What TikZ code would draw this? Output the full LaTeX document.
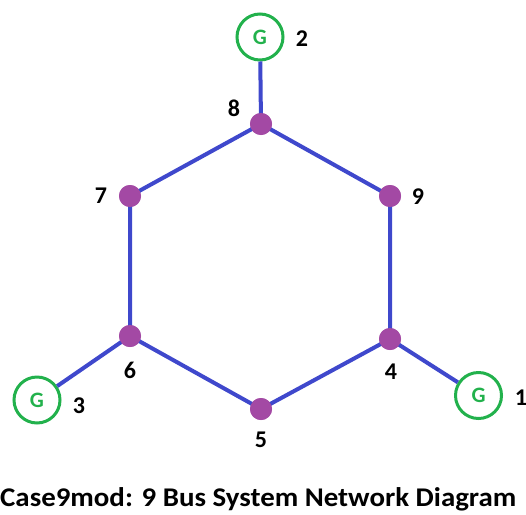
\documentclass[tikz,border=0pt]{standalone}
\usepackage{fontspec}
\setmainfont{Carlito}
\begin{document}
\begin{tikzpicture}[x=1pt,y=-1pt,
  line/.style={draw=lineblue,line width=4pt},
  bus/.style={circle,fill=buspurple,minimum size=22pt,inner sep=0pt},
  gen/.style={circle,draw=gengreen,line width=3pt,minimum size=46pt,inner sep=0pt,
    text=gengreen,font=\fontsize{22}{22}\selectfont\bfseries},
  lbl/.style={font=\fontsize{24}{24}\selectfont\bfseries,text=black}]
\definecolor{lineblue}{HTML}{3F48CC}
\definecolor{buspurple}{HTML}{A349A4}
\definecolor{gengreen}{HTML}{22B14C}
\useasboundingbox (0,0) rectangle (526,514);
\clip (0,0) rectangle (526,514);
% buses
\node[bus] (b8) at (261,124) {};
\node[bus] (b7) at (130,196) {};
\node[bus] (b9) at (390,196) {};
\node[bus] (b6) at (130,336) {};
\node[bus] (b4) at (390,339) {};
\node[bus] (b5) at (261,409) {};
% generators
\node[gen] (g2) at (260,37) {G};
\node[gen] (g3) at (37,400) {G};
\node[gen] (g1) at (478.5,395.5) {G};
% lines
\draw[line] (g2) -- (b8.center);
\draw[line] (b8.center) -- (b9.center) -- (b4.center) -- (b5.center) -- (b6.center) -- (b7.center) -- cycle;
\draw[line] (g3) -- (b6.center);
\draw[line] (g1) -- (b4.center);
% redraw buses on top
\foreach \b in {b8,b7,b9,b6,b4,b5} \fill[buspurple] (\b) circle (11pt);
% labels
\node[lbl] (l2) at (302,39) {2};
\node[lbl] (l8) at (234,108) {8};
\node[lbl] (l7) at (101,196) {7};
\node[lbl] (l9) at (418,197) {9};
\node[lbl] (l6) at (130,370) {6};
\node[lbl] (l4) at (391,372) {4};
\node[lbl] (l5) at (261,440) {5};
\node[lbl] (l3) at (79,406) {3};
\node[lbl] (l1) at (521,398) {1};
% title
\node[anchor=west,inner sep=0pt,font=\addfontfeatures{FakeStretch=1.07}\fontsize{27}{27}\selectfont\bfseries] (title) at (0,499) {Case9mod: 9 Bus System Network Diagram};
\end{tikzpicture}
\end{document}
